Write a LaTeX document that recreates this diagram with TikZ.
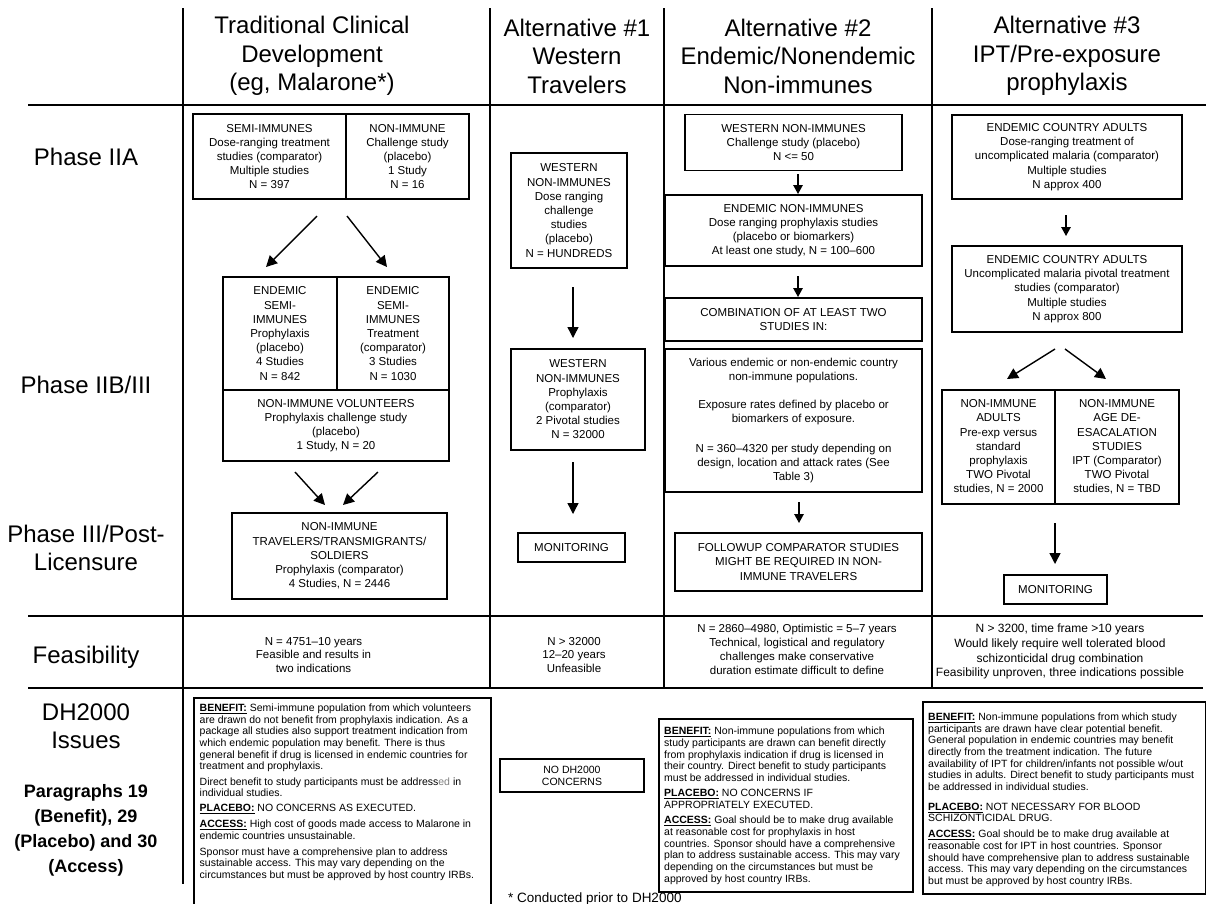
\documentclass[tikz,border=0pt]{standalone}
\usepackage{fontspec}
\setmainfont{Liberation Sans}
\usetikzlibrary{arrows.meta}
\newcommand\hdf{\fontsize{24}{28.5}\selectfont}
\newcommand\bxf{\fontsize{11.5}{14.2}\selectfont}
\newcommand\fsf{\fontsize{11.5}{13.8}\selectfont}
\newcommand\fsg{\fontsize{12}{14.8}\selectfont}
\newcommand\smf{\fontsize{10.5}{11.7}\selectfont}
\newcommand\pbf{\fontsize{18}{25}\selectfont\bfseries}
\newcommand\lbl[1]{\textbf{\underline{#1}}}
\begin{document}
\begin{tikzpicture}[x=1pt,y=-1pt,
  box/.style={draw, line width=1.4pt, inner sep=0pt, align=center, font=\bxf},
  arr/.style={line width=1.4pt, -{Triangle[length=11pt,width=11pt]}},
  sarr/.style={line width=1.4pt, -{Triangle[length=9pt,width=9.5pt]}},
  hrule/.style={line width=2.2pt},
  vrule/.style={line width=1.5pt},
  hdr/.style={font=\hdf, align=center, inner sep=0pt},
  feas/.style={font=\fsf, align=center, inner sep=0pt},
  dh/.style={draw, line width=1.9pt, inner sep=0pt, anchor=north west},
  dhtext/.style={font=\smf, align=left, inner sep=0pt, anchor=north west},
]
\useasboundingbox (0,0) rectangle (1206,903);
\fill[white] (0,0) rectangle (1206,903);

% grid
\draw[hrule] (28,105) -- (1206,105);
\draw[hrule] (28,616) -- (1203,616);
\draw[hrule] (28,688) -- (1203,688);
\draw[vrule] (183,8) -- (183,884);
\draw[vrule] (490,8) -- (490,688);
\draw[vrule] (664,8) -- (664,688);
\draw[vrule] (932,8) -- (932,688);

% headers
\node[hdr] (h1) at (312,56) {Traditional Clinical\\Development\\(eg,  Malarone*)};
\node[hdr] (h2) at (577,56) {Alternative \#1\\Western\\Travelers};
\node[hdr] (h3) at (798,56) {Alternative \#2\\Endemic/Nonendemic\\Non-immunes};
\node[hdr] (h4) at (1067,56) {Alternative \#3\\IPT/Pre-exposure\\prophylaxis};

% row labels
\node[hdr] (r1) at (86,157) {Phase IIA};
\node[hdr] (r2) at (86,385) {Phase IIB/III};
\node[hdr] (r3) at (86,548) {Phase III/Post-\\Licensure};
\node[hdr] (r4) at (86,657) {Feasibility};
\node[hdr] (r5) at (86,726) {DH2000\\Issues};
\node[font=\pbf, align=center, inner sep=0pt] (r6) at (86,830) {Paragraphs 19\\(Benefit), 29\\(Placebo) and 30\\(Access)};

% traditional column
\node[box, minimum width=153pt, minimum height=85pt] (A) at (269.5,156.5) {SEMI-IMMUNES\\Dose-ranging treatment\\studies (comparator)\\Multiple studies\\N = 397};
\node[box, minimum width=123pt, minimum height=85pt] (B) at (407.5,156.5) {NON-IMMUNE\\Challenge study\\(placebo)\\1 Study\\N = 16};
\node[box, minimum width=114pt, minimum height=113pt] (C) at (280,333.5) {ENDEMIC\\SEMI-\\IMMUNES\\Prophylaxis\\(placebo)\\4 Studies\\N = 842};
\node[box, minimum width=112pt, minimum height=113pt] (D) at (393,333.5) {ENDEMIC\\SEMI-\\IMMUNES\\Treatment\\(comparator)\\3 Studies\\N = 1030};
\node[box, minimum width=226pt, minimum height=71pt] (E) at (336,425.5) {NON-IMMUNE VOLUNTEERS\\Prophylaxis challenge study\\(placebo)\\1 Study, N = 20};
\node[box, minimum width=215pt, minimum height=86pt] (F) at (339.5,556) {NON-IMMUNE\\TRAVELERS/TRANSMIGRANTS/\\SOLDIERS\\Prophylaxis (comparator)\\4 Studies, N = 2446};
\coordinate (ac1) at (317,216); \coordinate (ac2) at (266,267);
\coordinate (bd1) at (347,216); \coordinate (bd2) at (387,267);
\coordinate (ef1) at (295,472); \coordinate (ef2) at (325,505);
\coordinate (ef3) at (378,472); \coordinate (ef4) at (343,505);
\draw[arr] (ac1) -- (ac2);
\draw[arr] (bd1) -- (bd2);
\draw[arr] (ef1) -- (ef2);
\draw[arr] (ef3) -- (ef4);

% alternative 1
\node[box, minimum width=116pt, minimum height=115pt] (G) at (569,210.5) {WESTERN\\NON-IMMUNES\\Dose ranging\\challenge\\studies\\(placebo)\\N = HUNDREDS};
\node[box, minimum width=134pt, minimum height=101pt] (H) at (578,399.5) {WESTERN\\NON-IMMUNES\\Prophylaxis\\(comparator)\\2 Pivotal studies\\N = 32000};
\node[box, minimum width=107pt, minimum height=29pt] (I) at (571.5,547.5) {MONITORING};
\coordinate (gh1) at (573,287); \coordinate (gh2) at (573,338);
\coordinate (hi1) at (573,462); \coordinate (hi2) at (573,514);
\draw[arr] (gh1) -- (gh2);
\draw[arr] (hi1) -- (hi2);

% alternative 2
\node[box, minimum width=217pt, minimum height=56pt] (J) at (793.5,142.5) {WESTERN NON-IMMUNES\\Challenge study (placebo)\\N <= 50};
\node[box, minimum width=257pt, minimum height=71pt] (K) at (793.5,230.5) {ENDEMIC NON-IMMUNES\\Dose ranging prophylaxis studies\\(placebo or biomarkers)\\At least one study, N = 100–600};
\node[box, minimum width=257pt, minimum height=43pt] (L) at (793.5,319.5) {COMBINATION OF AT LEAST TWO\\STUDIES IN:};
\node[box, minimum width=257pt, minimum height=143pt] (M) at (793.5,420.5) {Various endemic or non-endemic country\\non-immune populations.\\[14pt]Exposure rates defined by placebo or\\biomarkers of exposure.\\[15pt]N = 360–4320 per study depending on\\design, location and attack rates (See\\Table 3)};
\node[box, minimum width=247pt, minimum height=58pt] (N) at (798.5,562) {FOLLOWUP COMPARATOR STUDIES\\MIGHT BE REQUIRED IN NON-\\IMMUNE TRAVELERS};
\coordinate (jk1) at (798,174); \coordinate (jk2) at (798,194);
\coordinate (kl1) at (798,276); \coordinate (kl2) at (798,297);
\coordinate (mn1) at (799,502); \coordinate (mn2) at (799,523);
\draw[sarr] (jk1) -- (jk2);
\draw[sarr] (kl1) -- (kl2);
\draw[sarr] (mn1) -- (mn2);

% alternative 3
\node[box, minimum width=230pt, minimum height=84pt] (O) at (1067,157) {ENDEMIC COUNTRY ADULTS\\Dose-ranging treatment of\\uncomplicated malaria (comparator)\\Multiple studies\\N approx 400};
\node[box, minimum width=230pt, minimum height=86pt] (P) at (1067,289) {ENDEMIC COUNTRY ADULTS\\Uncomplicated malaria pivotal treatment\\studies (comparator)\\Multiple studies\\N approx 800};
\node[box, minimum width=113pt, minimum height=114pt] (Q) at (998.5,447) {NON-IMMUNE\\ADULTS\\Pre-exp versus\\standard\\prophylaxis\\TWO Pivotal\\studies, N = 2000};
\node[box, minimum width=124pt, minimum height=114pt] (R) at (1117,447) {NON-IMMUNE\\AGE DE-\\ESACALATION\\STUDIES\\IPT (Comparator)\\TWO Pivotal\\studies, N = TBD};
\node[box, minimum width=103pt, minimum height=29pt] (S) at (1055.5,589.5) {MONITORING};
\coordinate (op1) at (1066,215); \coordinate (op2) at (1066,236);
\coordinate (pq1) at (1055,349); \coordinate (pq2) at (1007,379);
\coordinate (pr1) at (1065,349); \coordinate (pr2) at (1106,379);
\coordinate (rs1) at (1055,523); \coordinate (rs2) at (1055,564);
\draw[sarr] (op1) -- (op2);
\draw[arr] (pq1) -- (pq2);
\draw[arr] (pr1) -- (pr2);
\draw[arr] (rs1) -- (rs2);

% feasibility
\node[feas] (f1) at (313.5,655) {N = 4751–10 years\\Feasible and results in\\two indications};
\node[feas] (f2) at (574,655) {N > 32000\\12–20 years\\Unfeasible};
\node[feas] (f3) at (797,649.5) {N = 2860–4980, Optimistic = 5–7 years\\Technical, logistical and regulatory\\challenges make conservative\\duration estimate difficult to define};
\node[feas, font=\fsg] (f4) at (1060,651.5) {N > 3200, time frame >10 years\\Would likely require well tolerated blood\\schizonticidal  drug combination\\Feasibility unproven, three indications possible};

% DH2000 issues
\node[dh, minimum width=297pt, minimum height=225pt] (d1) at (193,697) {};
\node[dhtext] (d1t) at (199.5,703.5) {\lbl{BENEFIT:} Semi-immune population from which volunteers\\are drawn do not benefit from prophylaxis indication. As a\\package all studies also support treatment indication from\\which endemic population may benefit. There is thus\\general benefit if drug is licensed in endemic countries for\\treatment and prophylaxis.\\[3.5pt]Direct benefit to study participants must be address\textcolor{gray}{ed} in\\individual studies.\\[3.5pt]\lbl{PLACEBO:} NO CONCERNS AS EXECUTED.\\[4pt]\lbl{ACCESS:} High cost of goods made access to Malarone in\\endemic countries unsustainable.\\[4pt]Sponsor must have a comprehensive plan to address\\sustainable access. This may vary depending on the\\circumstances but must be approved by host country IRBs.};

\node[box, font=\fontsize{10.5}{12}\selectfont, minimum width=144pt, minimum height=33pt] (nd) at (572,775.5) {NO DH2000\\CONCERNS};
\node[font=\fontsize{13.5}{15}\selectfont, anchor=west, inner sep=0pt] (fn) at (508,898.5) {* Conducted prior to DH2000};

\node[dh, minimum width=254pt, minimum height=173pt] (d2) at (658,718) {};
\node[dhtext] (d2t) at (664,727) {\lbl{BENEFIT:} Non-immune populations from which\\study participants are drawn can benefit directly\\from prophylaxis indication if drug is licensed in\\their country. Direct benefit to study participants\\must be addressed in individual studies.\\[3.5pt]\lbl{PLACEBO:} NO CONCERNS IF\\APPROPRIATELY EXECUTED.\\[3.5pt]\lbl{ACCESS:} Goal should be to make drug available\\at reasonable cost for prophylaxis in host\\countries. Sponsor should have a comprehensive\\plan to address sustainable access. This may vary\\depending on the circumstances but must be\\approved by host country IRBs.};

\node[dh, minimum width=283pt, minimum height=192pt] (d3) at (922,701) {};
\node[dhtext] (d3t) at (928,712.5) {\lbl{BENEFIT:} Non-immune populations from which study\\participants are drawn have clear potential benefit.\\General population in endemic countries may benefit\\directly from the treatment indication. The future\\availability of IPT for children/infants not possible w/out\\studies in adults. Direct benefit to study participants must\\be addressed in individual studies.\\[8pt]\lbl{PLACEBO:} NOT NECESSARY FOR BLOOD\\SCHIZONTICIDAL DRUG.\\[4pt]\lbl{ACCESS:} Goal should be to make drug available at\\reasonable cost for IPT in host countries. Sponsor\\should have comprehensive plan to address sustainable\\access. This may vary depending on the circumstances\\but must be approved by host country IRBs.};
\end{tikzpicture}
\end{document}
